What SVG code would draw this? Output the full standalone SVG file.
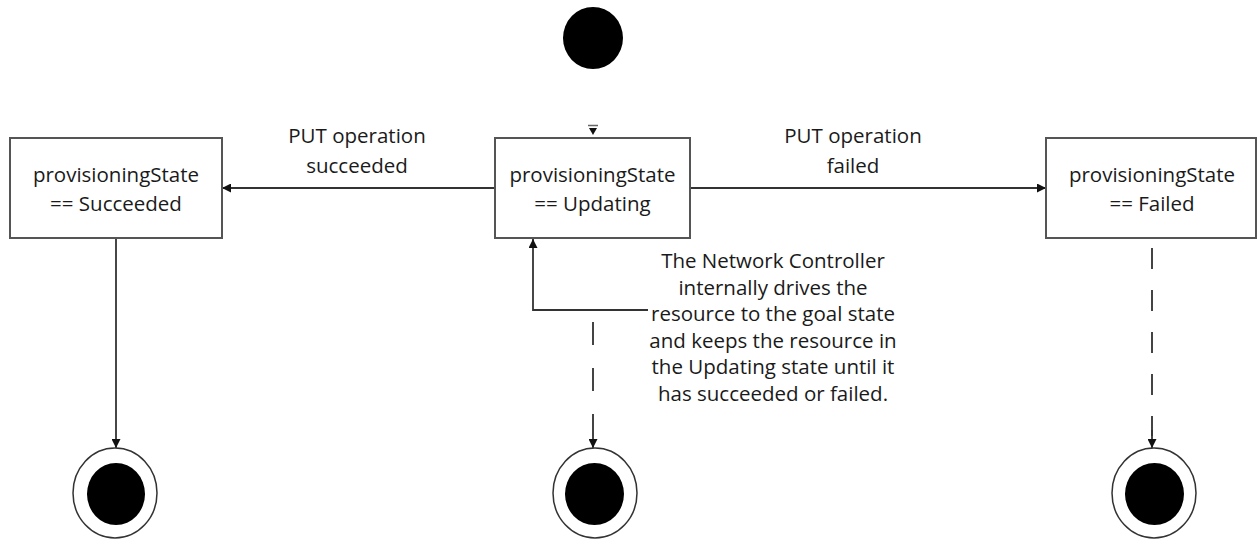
<svg xmlns="http://www.w3.org/2000/svg" width="1257" height="539" viewBox="0 0 1257 539">
<defs>
<style>
.box{fill:#fff;stroke:#555;stroke-width:2}
.t{font-family:"Open Sans","Liberation Sans",sans-serif;font-size:20.5px;fill:#1a1a1a;text-anchor:middle}
.ln{fill:none;stroke:#333;stroke-width:1.8}
.dash{fill:none;stroke:#444;stroke-width:2}
.solid{fill:#000}
.ring{fill:#fff;stroke:#333;stroke-width:1.5}
</style>
<marker id="ah" viewBox="0 0 10 10" refX="10" refY="5" markerWidth="9" markerHeight="9" markerUnits="userSpaceOnUse" orient="auto">
<path d="M0,0 L10,5 L0,10 Z" fill="#111"/>
</marker>
</defs>

<g id="connectors">
<line class="ln" x1="495" y1="188" x2="222" y2="188" marker-end="url(#ah)"/>
<line class="ln" x1="690" y1="188" x2="1046" y2="188" marker-end="url(#ah)"/>
<line class="ln" x1="116" y1="238" x2="116" y2="448" marker-end="url(#ah)"/>
<polyline class="ln" points="648,310 533,310 533,239" marker-end="url(#ah)"/>
<line class="dash" x1="593" y1="322" x2="593" y2="436" stroke-dasharray="23 23"/>
<line class="ln" x1="593" y1="436" x2="593" y2="448" marker-end="url(#ah)"/>
<line class="dash" x1="1152" y1="248" x2="1152" y2="436" stroke-dasharray="21 21"/>
<line class="ln" x1="1152" y1="430" x2="1152" y2="448" marker-end="url(#ah)"/>
<line x1="588" y1="125.5" x2="598" y2="125.5" stroke="#666" stroke-width="1.5"/>
<path d="M589,128 L597,128 L593,135 Z" fill="#111"/>
<text class="t" x="357" y="143">PUT operation</text>
<text class="t" x="357" y="173">succeeded</text>
<text class="t" x="853" y="143">PUT operation</text>
<text class="t" x="853" y="173">failed</text>
<text class="t" x="773" y="268">The Network Controller</text>
<text class="t" x="773" y="294.5">internally drives the</text>
<text class="t" x="773" y="321">resource to the goal state</text>
<text class="t" x="773" y="347.5">and keeps the resource in</text>
<text class="t" x="773" y="374">the Updating state until it</text>
<text class="t" x="773" y="400.5">has succeeded or failed.</text>
</g>

<g id="initial">
<ellipse class="solid" cx="593" cy="38" rx="30" ry="31"/>
</g>

<g id="succeeded">
<rect class="box" x="10" y="138" width="212" height="100"/>
<text class="t" x="116" y="182">provisioningState</text>
<text class="t" x="116" y="211">== Succeeded</text>
</g>

<g id="updating">
<rect class="box" x="495" y="138" width="195" height="100"/>
<text class="t" x="592.5" y="182">provisioningState</text>
<text class="t" x="592.5" y="211">== Updating</text>
</g>

<g id="failed">
<rect class="box" x="1046" y="138" width="210" height="100"/>
<text class="t" x="1152" y="182">provisioningState</text>
<text class="t" x="1152" y="211">== Failed</text>
</g>

<g id="final-succeeded">
<ellipse class="ring" cx="115" cy="493" rx="42" ry="45"/>
<ellipse class="solid" cx="116" cy="494" rx="29" ry="31"/>
</g>

<g id="final-updating">
<ellipse class="ring" cx="595" cy="493" rx="42" ry="45"/>
<ellipse class="solid" cx="594.5" cy="494" rx="29.5" ry="31"/>
</g>

<g id="final-failed">
<ellipse class="ring" cx="1154" cy="493" rx="42" ry="45"/>
<ellipse class="solid" cx="1154.5" cy="494" rx="29.5" ry="31"/>
</g>
</svg>
